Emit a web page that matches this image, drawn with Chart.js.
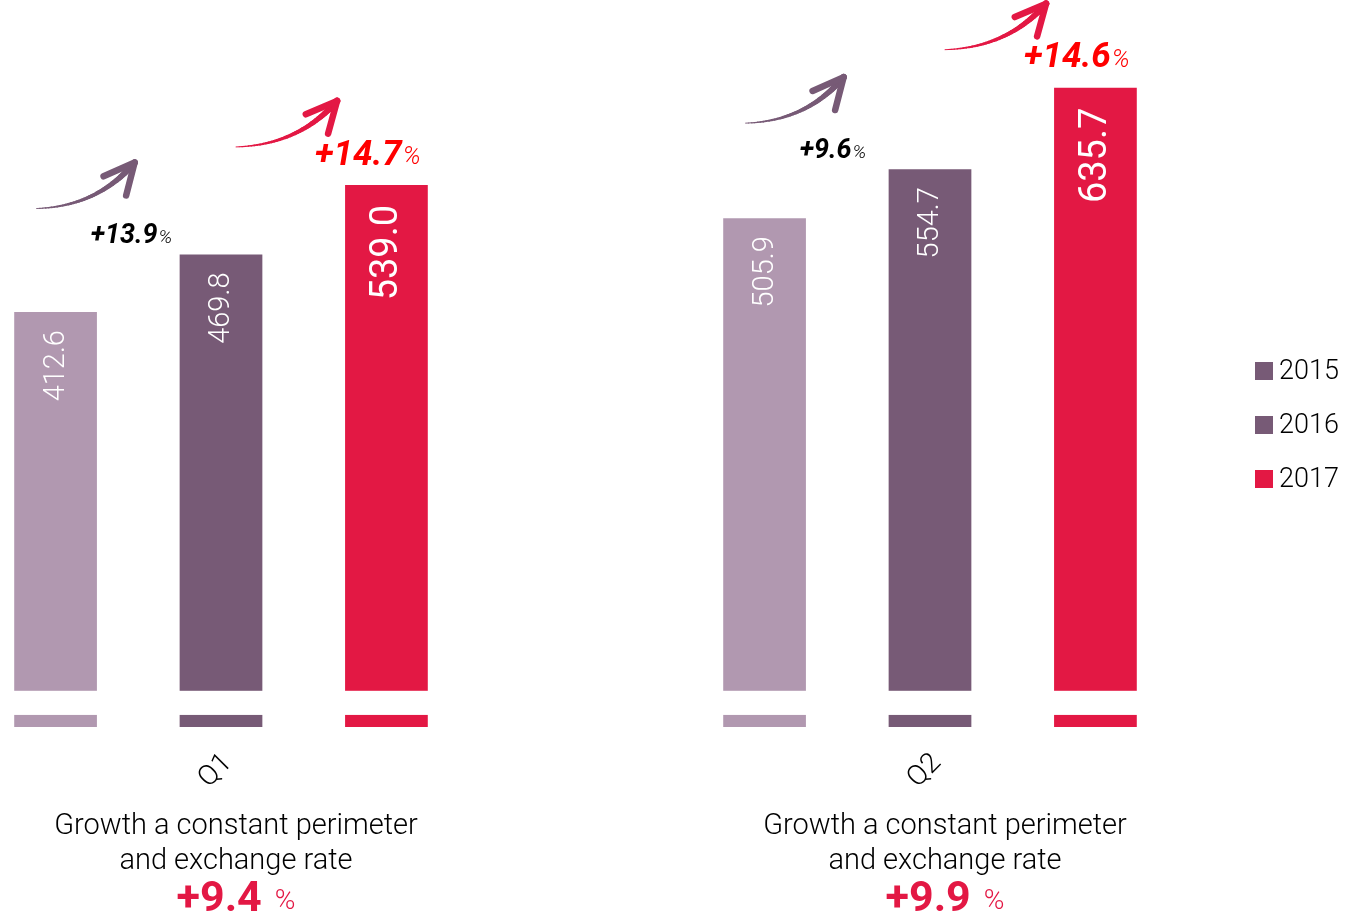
<!DOCTYPE html>
<html>
<head>
<meta charset="utf-8">
<script src="https://cdn.jsdelivr.net/npm/chart.js@4.4.0/dist/chart.umd.min.js"></script>
<style>
  html, body { margin: 0; padding: 0; background: #fff; }
  #wrap { position: relative; width: 1347px; height: 915px; }
</style>
</head>
<body>
<div id="wrap"><canvas id="myChart"></canvas></div>
<script>
// data
const categories = ['Q1', 'Q2'];
const seriesLabels = ['2015', '2016', '2017'];
const values2015 = [412.6, 505.9];
const values2016 = [469.8, 554.7];
const values2017 = [539.0, 635.7];
const growth2016 = ['+13.9', '+9.6'];
const growth2017 = ['+14.7', '+14.6'];
const totalGrowth = ['+9.4', '+9.9'];
const noteLines = ['Growth a constant perimeter', 'and exchange rate'];

const LIGHT = '#B198B0';
const DARK = '#775A76';
const RED = '#E31844';
const FONT = 'Roboto, "Open Sans", sans-serif';

// the bars are drawn with a visual break between these two values
const breakFrom = 12;
const breakTo = 36;

function drawArrow(ctx, sx, sy, ex, ey, color) {
  const cx = sx + (ex - sx) * 0.62, cy = sy - 2;
  ctx.save();
  ctx.strokeStyle = color;
  ctx.lineCap = 'round';
  let px = sx, py = sy;
  const n = 40;
  for (let i = 1; i <= n; i++) {
    const t = i / n;
    const x = (1 - t) * (1 - t) * sx + 2 * (1 - t) * t * cx + t * t * ex;
    const y = (1 - t) * (1 - t) * sy + 2 * (1 - t) * t * cy + t * t * ey;
    ctx.lineWidth = 0.8 + 5.5 * t;
    ctx.beginPath();
    ctx.moveTo(px, py);
    ctx.lineTo(x, y);
    ctx.stroke();
    px = x; py = y;
  }
  const ang = Math.atan2(ey - cy, ex - cx);
  ctx.lineWidth = 6.5;
  [-0.45, 0.45].forEach(d => {
    const a = ang + Math.PI + d;
    ctx.beginPath();
    ctx.moveTo(ex, ey);
    ctx.lineTo(ex + 34 * Math.cos(a), ey + 34 * Math.sin(a));
    ctx.stroke();
  });
  ctx.restore();
}

function drawGrowth(ctx, x, y, text, color, size) {
  ctx.save();
  ctx.fillStyle = color;
  ctx.textBaseline = 'middle';
  ctx.textAlign = 'left';
  ctx.font = `italic 700 ${size}px ${FONT}`;
  ctx.fillText(text, x, y);
  const w = ctx.measureText(text).width;
  ctx.font = `italic 300 ${Math.round(size * 0.72)}px ${FONT}`;
  ctx.fillText('%', x + w + 1, y + size * 0.06);
  ctx.restore();
}

const extras = {
  id: 'extras',
  afterDatasetsDraw(chart) {
    const ctx = chart.ctx;
    const y = chart.scales.y;
    const area = chart.chartArea;

    // break in the bars
    ctx.save();
    ctx.fillStyle = '#fff';
    const b1 = y.getPixelForValue(breakTo), b2 = y.getPixelForValue(breakFrom);
    ctx.fillRect(0, b1, chart.width, b2 - b1);
    ctx.restore();

    // values inside the bars
    chart.data.datasets.forEach((ds, di) => {
      chart.getDatasetMeta(di).data.forEach((el, i) => {
        ctx.save();
        ctx.translate(el.x + 1, el.y + (di === 2 ? 20 : 18));
        ctx.rotate(-Math.PI / 2);
        ctx.fillStyle = '#fff';
        ctx.textAlign = 'right';
        ctx.textBaseline = 'middle';
        ctx.font = di === 2 ? `400 38px ${FONT}` : `300 29px ${FONT}`;
        ctx.fillText(ds.data[i].toFixed(1), 0, 0);
        ctx.restore();
      });
    });

    // growth arrows and labels
    const m16 = chart.getDatasetMeta(1).data;
    const m17 = chart.getDatasetMeta(2).data;
    m16.forEach((el, i) => {
      const left = el.x - el.width / 2;
      drawArrow(ctx, left - 143, el.y - 46, left - 45, el.y - 92, DARK);
      drawGrowth(ctx, left - 89, el.y - 18, growth2016[i], '#000', 27);
    });
    m17.forEach((el, i) => {
      const left = el.x - el.width / 2;
      drawArrow(ctx, left - 109, el.y - 38, left - 8, el.y - 84, RED);
      drawGrowth(ctx, left - 30, el.y - 29, growth2017[i], '#FF0000', 35);
    });

    // notes under each quarter
    const x = chart.scales.x;
    categories.forEach((c, i) => {
      const cx = x.getPixelForValue(i) + 15;
      ctx.save();
      ctx.fillStyle = '#000';
      ctx.textAlign = 'center';
      ctx.textBaseline = 'alphabetic';
      ctx.font = `300 29px ${FONT}`;
      ctx.fillText(noteLines[0], cx, area.bottom + 107);
      ctx.fillText(noteLines[1], cx, area.bottom + 142);
      ctx.font = `700 43px ${FONT}`;
      const w1 = ctx.measureText(totalGrowth[i]).width;
      ctx.font = `300 28px ${FONT}`;
      const w2 = ctx.measureText('%').width;
      const start = cx - (w1 + 13 + w2) / 2;
      ctx.textAlign = 'left';
      ctx.fillStyle = RED;
      ctx.font = `700 43px ${FONT}`;
      ctx.fillText(totalGrowth[i], start, area.bottom + 184);
      ctx.font = `300 28px ${FONT}`;
      ctx.fillText('%', start + w1 + 13, area.bottom + 182);
      ctx.restore();
    });

    // legend on the right
    const legendColors = [DARK, DARK, RED];
    seriesLabels.forEach((s, i) => {
      const ly = 371 + i * 54;
      ctx.save();
      ctx.fillStyle = legendColors[i];
      ctx.fillRect(1255, ly - 9, 18, 18);
      ctx.fillStyle = '#000';
      ctx.font = `300 27px ${FONT}`;
      ctx.textBaseline = 'middle';
      ctx.fillText(s, 1279, ly + 1);
      ctx.restore();
    });
  }
};

const ctx = document.getElementById('myChart');
new Chart(ctx, {
  type: 'bar',
  data: {
    labels: categories,
    datasets: [
      { label: seriesLabels[0], data: values2015, backgroundColor: LIGHT, clip: false },
      { label: seriesLabels[1], data: values2016, backgroundColor: DARK, clip: false },
      { label: seriesLabels[2], data: values2017, backgroundColor: RED, clip: false }
    ]
  },
  options: {
    responsive: true,
    maintainAspectRatio: false,
    animation: false,
    categoryPercentage: 0.7,
    barPercentage: 0.5,
    layout: { padding: { left: 221, right: 417, top: 23, bottom: 0 } },
    plugins: {
      legend: { display: false },
      tooltip: { enabled: false }
    },
    scales: {
      x: {
        offset: false,
        grid: { display: false, drawTicks: false },
        border: { display: false },
        ticks: {
          color: '#000',
          font: { family: FONT, size: 28, weight: '300' },
          minRotation: 45,
          maxRotation: 45,
          labelOffset: 7,
          padding: 20
        },
        afterFit: (scale) => { scale.height = 188; }
      },
      y: {
        display: false,
        min: 0,
        max: 700
      }
    }
  },
  plugins: [extras]
});
</script>
</body>
</html>
